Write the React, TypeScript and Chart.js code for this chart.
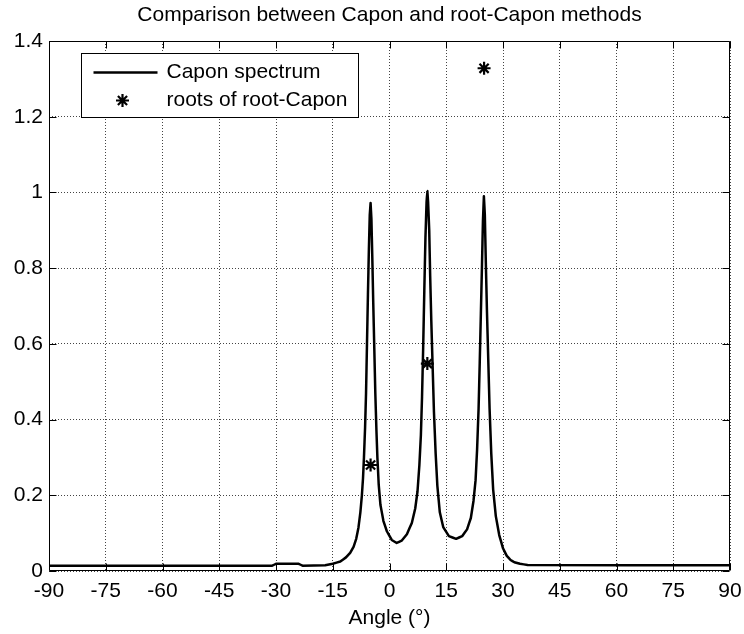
import React, { useEffect, useRef } from "react";
import { Chart, registerables } from "chart.js";

Chart.register(...registerables);

const FONT = '"Liberation Sans", Arial, Helvetica, sans-serif';

const titleText = "Comparison between Capon and root-Capon methods";
const xTitle = "Angle (°)";
const legendLabels = ["Capon spectrum", "roots of root-Capon"];

const xTicks = [-90, -75, -60, -45, -30, -15, 0, 15, 30, 45, 60, 75, 90];
const yTicks = [0, 0.2, 0.4, 0.6, 0.8, 1, 1.2, 1.4];

// Capon spectrum (angle in degrees, normalised power)
const caponAngles = [
  -90, -31, -30, -24, -23, -17, -15, -13, -11.5, -10.4, -9.5, -8.8, -8.2, -7.7,
  -7.3, -7.0, -6.75, -6.45, -6.2, -5.95, -5.7, -5.45, -5.22, -5.0, -4.78, -4.55,
  -4.3, -4.0, -3.75, -3.45, -3.2, -2.85, -2.4, -1.6, -0.7, 0.6, 1.9, 3.2, 4.6,
  5.9, 6.8, 7.4, 7.9, 8.3, 8.6, 8.9, 9.2, 9.5, 9.8, 10.0, 10.2, 10.5, 10.75,
  11.05, 11.4, 11.75, 12.2, 12.65, 13.3, 14.2, 15.7, 17.6, 19.2, 20.5, 21.5,
  22.2, 22.75, 23.15, 23.55, 23.85, 24.15, 24.45, 24.7, 24.95, 25.2, 25.45,
  25.75, 26.1, 26.45, 26.9, 27.4, 28.1, 29.0, 30.0, 31.0, 32.0, 33.0, 34.5,
  36.5, 90,
];
const caponValues = [
  0.014, 0.014, 0.019, 0.019, 0.014, 0.015, 0.019, 0.025, 0.036, 0.048, 0.064,
  0.085, 0.115, 0.155, 0.2, 0.245, 0.3, 0.38, 0.47, 0.6, 0.73, 0.85, 0.94,
  0.972, 0.93, 0.83, 0.71, 0.58, 0.47, 0.37, 0.3, 0.228, 0.175, 0.132, 0.105,
  0.082, 0.074, 0.08, 0.097, 0.127, 0.165, 0.21, 0.28, 0.36, 0.46, 0.59, 0.74,
  0.88, 0.975, 1.004, 0.975, 0.9, 0.78, 0.66, 0.54, 0.42, 0.31, 0.225, 0.155,
  0.116, 0.092, 0.085, 0.092, 0.11, 0.14, 0.185, 0.24, 0.32, 0.43, 0.55, 0.68,
  0.81, 0.925, 0.99, 0.94, 0.82, 0.69, 0.56, 0.43, 0.31, 0.215, 0.145, 0.095,
  0.06, 0.04, 0.029, 0.023, 0.019, 0.016, 0.015,
];

// roots found by root-Capon
const rootAngles = [-5, 10, 25];
const rootValues = [0.28, 0.548, 1.328];

function drawStar(ctx: CanvasRenderingContext2D, x: number, y: number, r: number) {
  ctx.beginPath();
  for (let k = 0; k < 4; k++) {
    const a = (k * Math.PI) / 4;
    ctx.moveTo(x - r * Math.cos(a), y - r * Math.sin(a));
    ctx.lineTo(x + r * Math.cos(a), y + r * Math.sin(a));
  }
  ctx.stroke();
}

const framePlugin = {
  id: "matlabFrame",
  afterDatasetsDraw(chart: any) {
    const { ctx, chartArea, scales } = chart;
    const { left, right, top, bottom } = chartArea;
    ctx.save();
    ctx.strokeStyle = "#000";
    ctx.lineWidth = 1;
    const L = Math.round(left) + 0.5;
    const R = Math.round(right) - 0.5;
    const T = Math.round(top) + 0.5;
    const B = Math.round(bottom) - 0.5;
    ctx.beginPath();
    ctx.rect(L, T, R - L, B - T);
    ctx.stroke();
    const tl = 7;
    ctx.beginPath();
    xTicks.forEach((v) => {
      const x = Math.round(scales.x.getPixelForValue(v)) + 0.5;
      ctx.moveTo(x, B);
      ctx.lineTo(x, B - tl);
      ctx.moveTo(x, T);
      ctx.lineTo(x, T + tl);
    });
    yTicks.forEach((v) => {
      const y = Math.round(scales.y.getPixelForValue(v)) + 0.5;
      ctx.moveTo(L, y);
      ctx.lineTo(L + tl, y);
      ctx.moveTo(R, y);
      ctx.lineTo(R - tl, y);
    });
    ctx.stroke();

    // legend box
    const bx = Math.round(left) + 32 + 0.5;
    const by = Math.round(top) + 12 + 0.5;
    const bw = 277;
    const bh = 64;
    ctx.fillStyle = "#fff";
    ctx.fillRect(bx, by, bw, bh);
    ctx.strokeRect(bx, by, bw, bh);
    ctx.lineWidth = 2.5;
    ctx.beginPath();
    ctx.moveTo(bx + 12, by + 19);
    ctx.lineTo(bx + 76, by + 19);
    ctx.stroke();
    ctx.lineWidth = 2.2;
    drawStar(ctx, bx + 41, by + 47, 6.5);
    ctx.fillStyle = "#000";
    ctx.font = `21px ${FONT}`;
    ctx.textBaseline = "middle";
    ctx.textAlign = "left";
    ctx.fillText(legendLabels[0], bx + 85, by + 19);
    ctx.fillText(legendLabels[1], bx + 85, by + 47);
    ctx.restore();
  },
};

export default function App() {
  const ref = useRef<HTMLCanvasElement | null>(null);

  useEffect(() => {
    if (!ref.current) return;
    Chart.defaults.font.family = FONT;
    Chart.defaults.color = "#000";
    const chart = new Chart(ref.current, {
      type: "scatter",
      data: {
        datasets: [
          {
            label: legendLabels[1],
            data: rootAngles.map((a, i) => ({ x: a, y: rootValues[i] })),
            showLine: false,
            pointStyle: "star",
            pointRadius: 6.5,
            pointBorderWidth: 2.2,
            borderColor: "#000",
            backgroundColor: "#000",
          },
          {
            label: legendLabels[0],
            data: caponAngles.map((a, i) => ({ x: a, y: caponValues[i] })),
            showLine: true,
            pointRadius: 0,
            borderColor: "#000",
            borderWidth: 2.5,
            borderJoinStyle: "round",
            tension: 0.0001,
          },
        ],
      },
      options: {
        responsive: false,
        animation: false,
        devicePixelRatio: 1,
        layout: { padding: { left: 0, right: 14, top: 0, bottom: 0 } },
        plugins: {
          legend: { display: false },
          tooltip: { enabled: false },
          title: {
            display: true,
            text: titleText,
            fullSize: false,
            color: "#000",
            font: { size: 21, weight: "normal", family: FONT },
            padding: { top: 3, bottom: 12.8 },
          },
        },
        scales: {
          x: {
            type: "linear",
            min: -90,
            max: 90,
            afterFit: (s: any) => {
              s.height = 63;
              s.paddingLeft = 0;
              s.paddingRight = 0;
            },
            afterBuildTicks: (s: any) => {
              s.ticks = xTicks.map((v) => ({ value: v }));
            },
            ticks: {
              autoSkip: false,
              maxRotation: 0,
              padding: 8,
              color: "#000",
              font: { size: 21, family: FONT },
            },
            grid: {
              color: "#444",
              lineWidth: 1,
              drawTicks: false,
            },
            border: { display: false, dash: [1, 2] },
            title: {
              display: true,
              text: xTitle,
              color: "#000",
              font: { size: 21, family: FONT },
              padding: { top: 0, bottom: 3 },
            },
          },
          y: {
            type: "linear",
            min: 0,
            max: 1.4,
            afterFit: (s: any) => {
              s.width = 49;
              s.paddingTop = 0;
              s.paddingBottom = 0;
            },
            afterBuildTicks: (s: any) => {
              s.ticks = yTicks.map((v) => ({ value: v }));
            },
            ticks: {
              padding: 6,
              color: "#000",
              font: { size: 21, family: FONT },
              callback: (v: any) => String(Number(Number(v).toFixed(1))),
            },
            grid: {
              color: "#444",
              lineWidth: 1,
              drawTicks: false,
            },
            border: { display: false, dash: [1, 2] },
          },
        },
      },
      plugins: [framePlugin],
    });
    return () => chart.destroy();
  }, []);

  return (
    <div style={{ position: "absolute", left: 0, top: 0, width: 744, height: 634, background: "#fff" }}>
      <canvas ref={ref} width={744} height={634} />
    </div>
  );
}
